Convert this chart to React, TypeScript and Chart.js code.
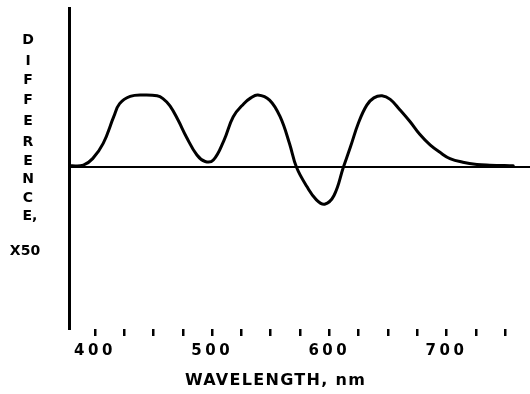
import React, { useEffect, useRef } from "react";
import { Chart, registerables } from "chart.js";

Chart.register(...registerables);

// Wavelength (nm) and difference (x50, relative units)
const wavelengths = [379, 390, 398, 407, 416, 421, 430, 441, 453, 458, 464, 471, 478, 487, 494, 501, 510, 518, 527, 533, 539, 549, 558, 566, 572, 581, 589, 596, 604, 612, 618, 625, 632, 638, 645, 652, 660, 669, 677, 686, 695, 703, 714, 726, 737, 757];
const differences = [0.02, 0.03, 0.12, 0.33, 0.7, 0.88, 0.98, 1.0, 0.99, 0.95, 0.85, 0.65, 0.42, 0.17, 0.08, 0.1, 0.37, 0.7, 0.88, 0.96, 1.0, 0.93, 0.7, 0.33, 0, -0.27, -0.45, -0.51, -0.39, 0, 0.28, 0.62, 0.86, 0.96, 0.99, 0.94, 0.8, 0.63, 0.46, 0.31, 0.2, 0.12, 0.07, 0.04, 0.03, 0.02];

const xMin = 377.8;
const xMax = 771.3;
const yMin = -2.236;
const yMax = 2.203;
const xTickStep = 25;
const xLabelEvery = 100;

const yTitleLetters = ["D", "I", "F", "F", "E", "R", "E", "N", "C", "E,"];
const yTitleScale = "X50";
const xTitle = "WAVELENGTH, nm";

export default function App() {
  const ref = useRef<HTMLCanvasElement>(null);

  useEffect(() => {
    const canvas = ref.current;
    if (!canvas) return;

    const textPlugin = {
      id: "axisText",
      beforeUpdate(chart: any) {
        (chart.ctx as any).letterSpacing = "3.5px";
      },
      beforeDraw(chart: any) {
        (chart.ctx as any).letterSpacing = "3.5px";
      },
      afterDraw(chart: any) {
        const ctx = chart.ctx as any;
        ctx.save();
        ctx.fillStyle = "#000";
        ctx.textBaseline = "alphabetic";
        ctx.letterSpacing = "0px";
        ctx.font = "bold 14px 'DejaVu Sans'";
        const baselines = [44, 65, 84, 104, 125, 146, 165, 183, 202, 220];
        yTitleLetters.forEach((l, i) => {
          if (l.length > 1) {
            ctx.textAlign = "left";
            ctx.fillText(l, 22.5, baselines[i]);
          } else {
            ctx.textAlign = "center";
            ctx.fillText(l, 28, baselines[i]);
          }
        });
        ctx.textAlign = "center";
        ctx.fillText(yTitleScale, 25, 255);

        ctx.font = "bold 16px 'DejaVu Sans'";
        ctx.letterSpacing = "1.3px";
        ctx.textAlign = "left";
        ctx.fillText(xTitle, 185, 385);
        ctx.restore();
      },
    };

    const chart = new Chart(canvas, {
      type: "line",
      data: {
        datasets: [
          {
            data: wavelengths.map((x, i) => ({ x, y: differences[i] })),
            borderColor: "#000",
            borderWidth: 3,
            pointRadius: 0,
            fill: false,
            tension: 0.4,
            borderJoinStyle: "round",
            borderCapStyle: "round",
          },
        ],
      },
      options: {
        responsive: false,
        animation: false,
        layout: { padding: { left: 69, top: 8, right: 0, bottom: 0 } },
        plugins: {
          legend: { display: false },
          tooltip: { enabled: false },
          title: { display: false },
        },
        scales: {
          x: {
            type: "linear",
            min: xMin,
            max: xMax,
            afterFit: (scale: any) => {
              scale.height = 65;
            },
            border: { display: false },
            grid: {
              display: true,
              drawOnChartArea: false,
              drawTicks: true,
              tickLength: 7,
              color: "#000",
              lineWidth: 2.5,
            },
            ticks: {
              stepSize: xTickStep,
              includeBounds: false,
              autoSkip: false,
              maxRotation: 0,
              minRotation: 0,
              padding: 6,
              color: "#000",
              font: { family: "'DejaVu Sans'", weight: "bold", size: 15 },
              callback: (v: any) => (Number(v) % xLabelEvery === 0 ? String(v) : ""),
            },
          },
          y: {
            type: "linear",
            min: yMin,
            max: yMax,
            afterFit: (scale: any) => {
              scale.width = 0;
            },
            border: { display: true, color: "#000", width: 3 },
            grid: {
              drawTicks: false,
              lineWidth: 2,
              color: (c: any) => (c.tick && c.tick.value === 0 ? "#000" : "rgba(0,0,0,0)"),
            },
            ticks: { display: false, stepSize: 1 },
          },
        },
      },
      plugins: [textPlugin],
    } as any);

    return () => {
      chart.destroy();
    };
  }, []);

  return (
    <div style={{ position: "fixed", left: 0, top: 0, width: 530, height: 394, background: "#fff" }}>
      <canvas ref={ref} width={530} height={394} style={{ display: "block" }} />
    </div>
  );
}
